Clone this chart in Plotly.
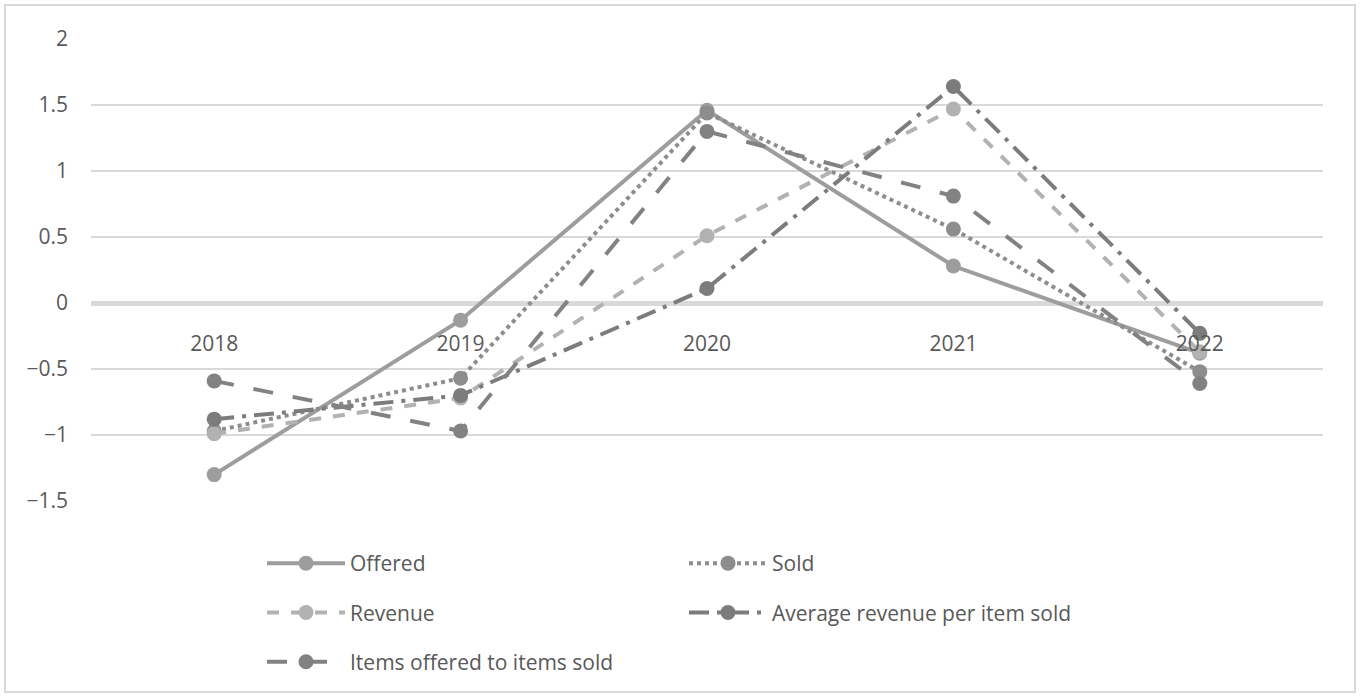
import plotly.graph_objects as go

years = ["2018", "2019", "2020", "2021", "2022"]
offered = [-1.30, -0.13, 1.46, 0.28, -0.38]
sold = [-0.97, -0.57, 1.44, 0.56, -0.52]
revenue = [-0.99, -0.72, 0.51, 1.47, -0.37]
avg_revenue = [-0.88, -0.70, 0.11, 1.64, -0.23]
items_ratio = [-0.59, -0.97, 1.30, 0.81, -0.61]

y_ticks = [-1.5, -1, -0.5, 0, 0.5, 1, 1.5, 2]
y_tick_text = ["\u22121.5", "\u22121", "\u22120.5", "0", "0.5", "1", "1.5", "2"]

FONT = "Open Sans, sans-serif"
FS = 21

series = [
    ("Offered", offered, "#9d9d9d", "solid", "legend"),
    ("Sold", sold, "#8d8d8d", "dot", "legend2"),
    ("Revenue", revenue, "#b2b2b2", "dash", "legend"),
    ("Average revenue per item sold", avg_revenue, "#7c7c7c", "longdashdot", "legend2"),
    ("Items offered to items sold", items_ratio, "#828282", "longdash", "legend"),
]

fig = go.Figure()
for i, (name, vals, col, dash, lg) in enumerate(series):
    fig.add_trace(go.Scatter(
        x=years, y=vals, name=name, mode="lines+markers",
        line=dict(color=col, width=4, dash=dash),
        marker=dict(color=col, size=15),
        legend=lg, legendgroup=name,
    ))

PH = 462.0
leg_common = dict(yanchor="top", xanchor="left", orientation="v",
                  tracegroupgap=19, itemwidth=78,
                  font=dict(family=FONT, size=FS, color="#595959"),
                  bgcolor="rgba(0,0,0,0)")

fig.update_layout(
    width=1360, height=697,
    margin=dict(l=91, r=37, t=39, b=196, autoexpand=False),
    paper_bgcolor="white", plot_bgcolor="white",
    font=dict(family=FONT, size=FS, color="#595959"),
    showlegend=True,
    legend=dict(x=(262 - 91) / 1232, y=-(543 - 501) / PH, **leg_common),
    legend2=dict(x=(684 - 91) / 1232, y=-(543 - 501) / PH, **leg_common),
    shapes=[dict(type="rect", xref="paper", yref="paper",
                 x0=-86 / 1232, x1=(1355 - 91) / 1232,
                 y0=-(692 - 501) / PH, y1=(39 - 5) / PH + 1,
                 line=dict(color="#d9d9d9", width=2), layer="below")],
)

fig.update_yaxes(
    range=[-1.5, 2], tickvals=y_ticks, ticktext=y_tick_text,
    showgrid=True, gridcolor="#d9d9d9", gridwidth=1.5,
    zeroline=True, zerolinecolor="#d9d9d9", zerolinewidth=5,
    showline=False, ticks="", ticklabelstandoff=22,
    tickfont=dict(family=FONT, size=FS, color="#595959"),
    fixedrange=True,
)
fig.update_xaxes(
    type="category", categoryorder="array", categoryarray=years,
    range=[-0.5, 4.5], showgrid=False, zeroline=False, showline=False,
    anchor="free", position=1.5 / 3.5,
    ticks="outside", ticklen=22, tickcolor="rgba(0,0,0,0)",
    tickfont=dict(family=FONT, size=FS, color="#595959"),
    fixedrange=True,
)

fig.write_html("out.html")
